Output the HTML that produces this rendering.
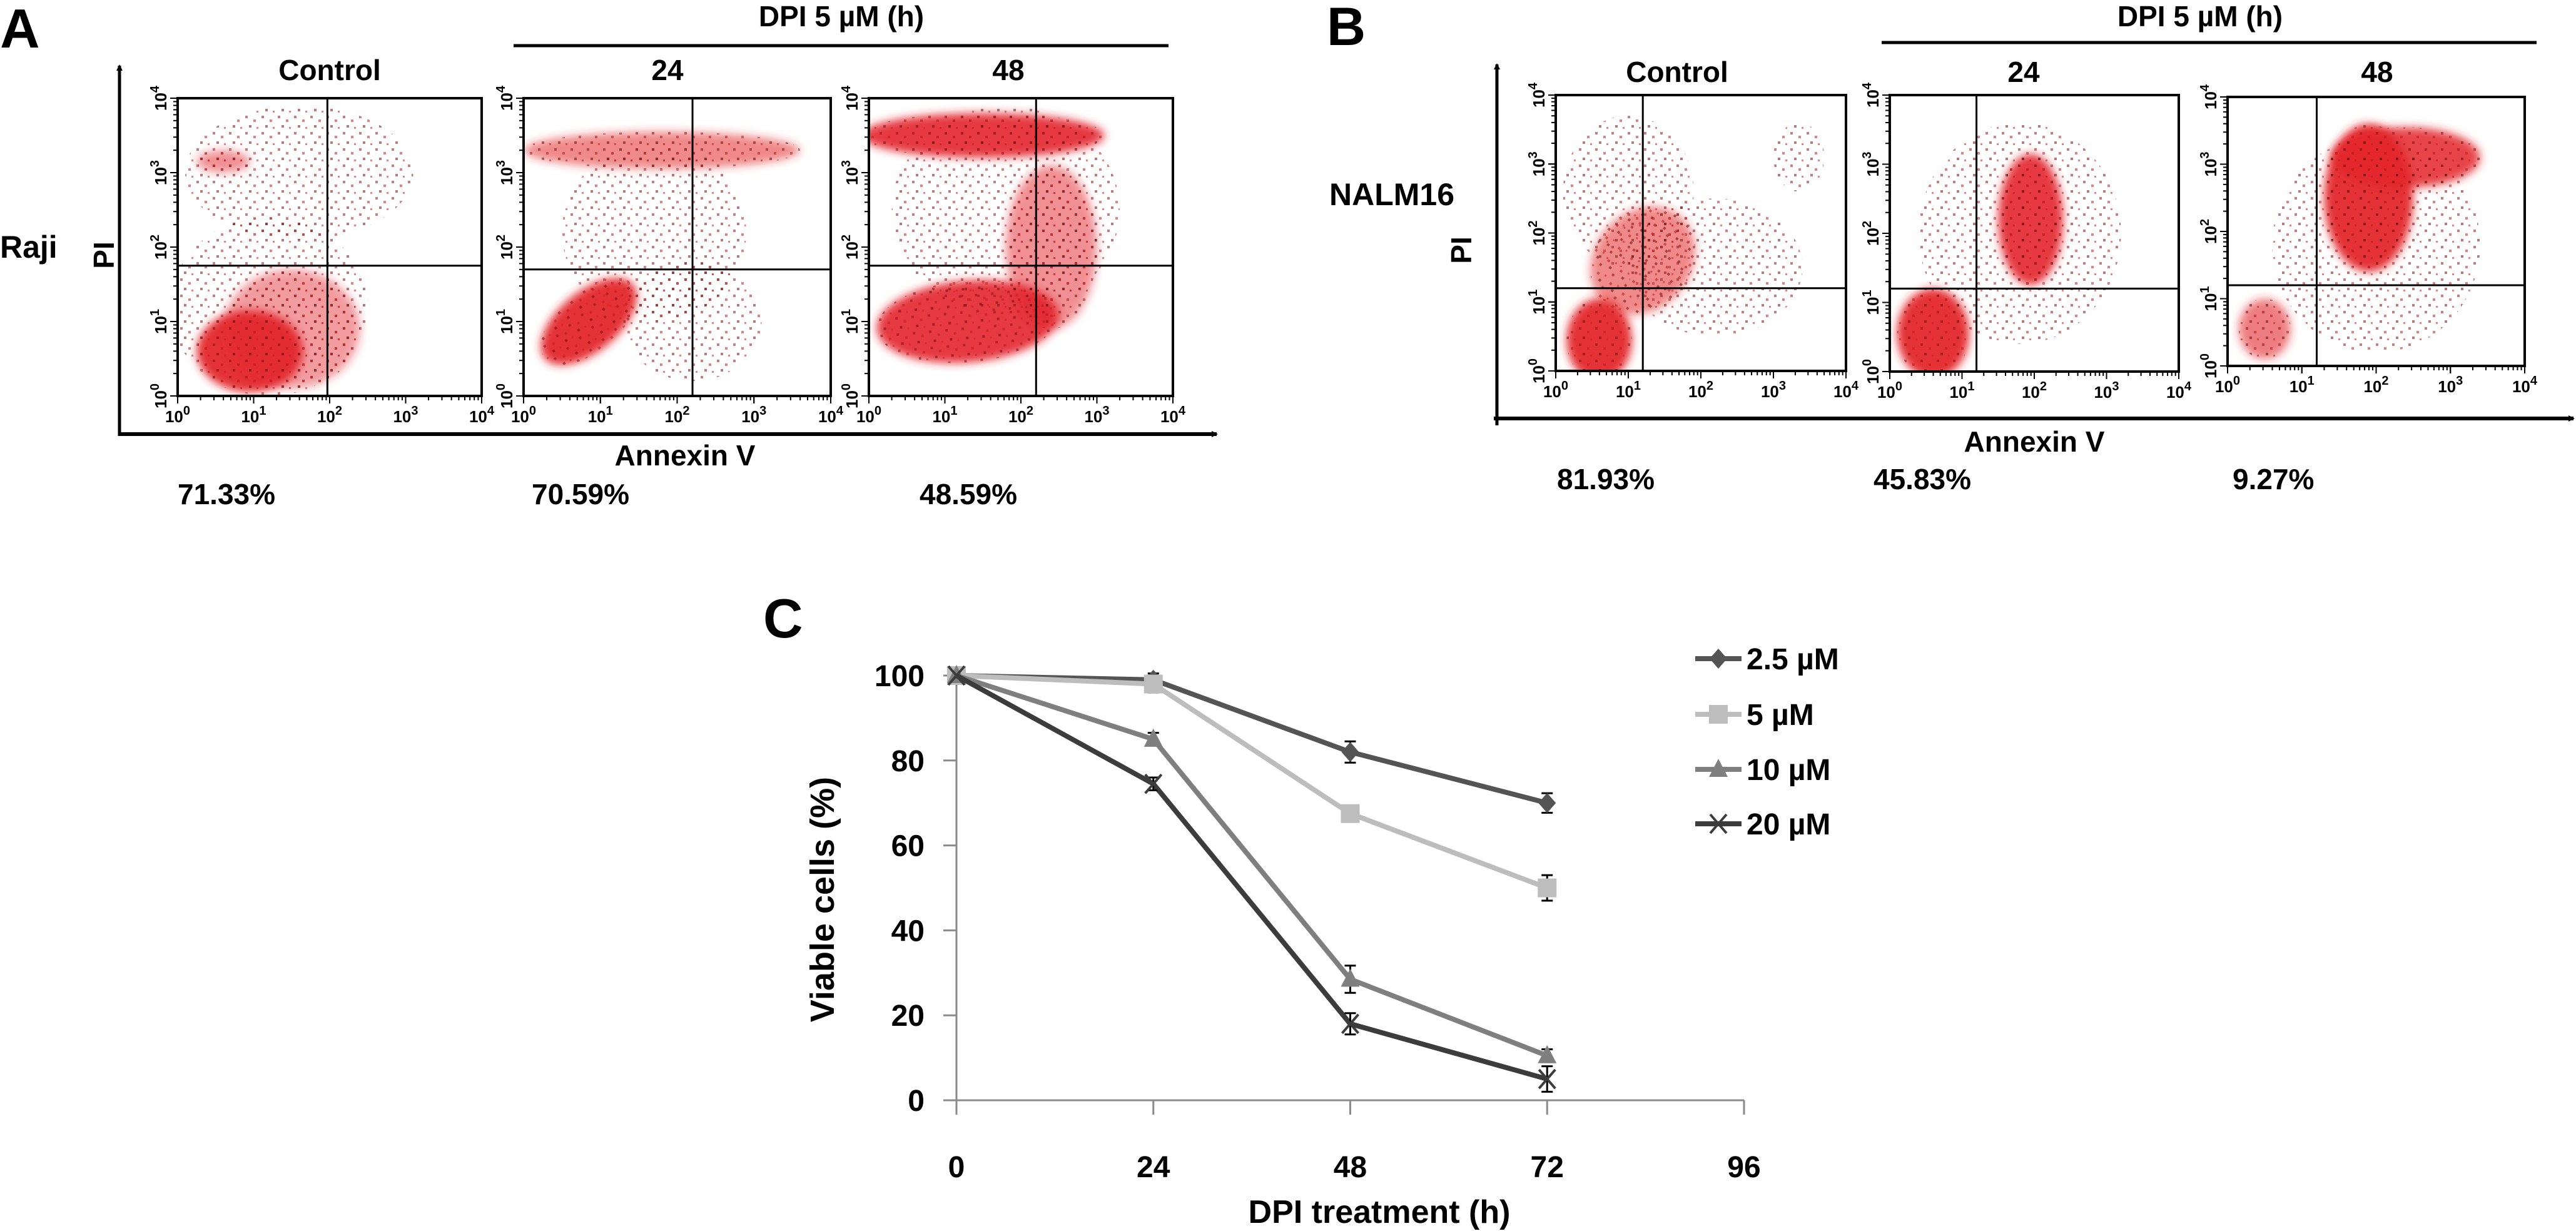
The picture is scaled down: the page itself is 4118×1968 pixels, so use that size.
<!DOCTYPE html>
<html><head><meta charset="utf-8"><style>
html,body{margin:0;padding:0;background:#fff;}
svg{display:block;}
text{font-family:"Liberation Sans",Arial,sans-serif;font-weight:bold;fill:#000;}
</style></head><body>
<svg id="fig" xmlns="http://www.w3.org/2000/svg" width="4118" height="1968" viewBox="0 0 4118 1968">
<defs>
<filter id="blur" x="-30%" y="-30%" width="160%" height="160%"><feGaussianBlur stdDeviation="7"/></filter>
<pattern id="dots" width="26" height="26" patternUnits="userSpaceOnUse">
<rect x="2" y="3" width="4" height="4" fill="#9a1515"/><rect x="15" y="9" width="4" height="4" fill="#c21d1d"/><rect x="8" y="18" width="4" height="4" fill="#7a1010"/><rect x="20" y="21" width="3" height="3" fill="#d02020"/>
</pattern>
<marker id="arr" markerWidth="10" markerHeight="10" refX="8" refY="5" orient="auto" markerUnits="userSpaceOnUse"><path d="M0,0 L10,5 L0,10 z" fill="#000"/></marker>
</defs>

<!-- Panel A static text -->
<text x="0" y="76" font-size="88">A</text>
<text x="1345" y="42" font-size="46" text-anchor="middle">DPI 5 µM (h)</text>
<line x1="821" y1="73" x2="1868" y2="73" stroke="#000" stroke-width="5"/>
<text x="527" y="128" font-size="46" text-anchor="middle">Control</text>
<text x="1067" y="128" font-size="46" text-anchor="middle">24</text>
<text x="1612" y="128" font-size="46" text-anchor="middle">48</text>
<text x="0" y="412" font-size="50">Raji</text>
<text transform="translate(182,408) rotate(-90)" font-size="46" text-anchor="middle">PI</text>
<line x1="191" y1="697" x2="191" y2="105" stroke="#000" stroke-width="5" marker-end="url(#arr)"/>
<line x1="189" y1="694" x2="1945" y2="694" stroke="#000" stroke-width="6" marker-end="url(#arr)"/>
<text x="1095" y="744" font-size="46" text-anchor="middle">Annexin V</text>
<text x="284" y="806" font-size="46">71.33%</text>
<text x="850" y="806" font-size="46">70.59%</text>
<text x="1470" y="806" font-size="46">48.59%</text>

<!-- Panel B static text -->
<text x="2121" y="72" font-size="86">B</text>
<text x="3517" y="42" font-size="46" text-anchor="middle">DPI 5 µM (h)</text>
<line x1="3008" y1="68" x2="4055" y2="68" stroke="#000" stroke-width="5"/>
<text x="2681" y="131" font-size="46" text-anchor="middle">Control</text>
<text x="3235" y="131" font-size="46" text-anchor="middle">24</text>
<text x="3800" y="131" font-size="46" text-anchor="middle">48</text>
<text x="2125" y="328" font-size="50">NALM16</text>
<text transform="translate(2352,400) rotate(-90)" font-size="46" text-anchor="middle">PI</text>
<line x1="2393" y1="680" x2="2393" y2="103" stroke="#000" stroke-width="5" marker-end="url(#arr)"/>
<line x1="2388" y1="669" x2="4114" y2="669" stroke="#000" stroke-width="6" marker-end="url(#arr)"/>
<text x="3252" y="722" font-size="46" text-anchor="middle">Annexin V</text>
<text x="2489" y="782" font-size="46">81.93%</text>
<text x="2995" y="782" font-size="46">45.83%</text>
<text x="3569" y="782" font-size="46">9.27%</text>

<g id="flow"></g>

<!-- Panel C -->
<text x="1220" y="1019" font-size="88">C</text>
<g id="chartC"></g>
</svg>
<script>
// ---------- Flow cytometry cluster data (log-decade units: cx, cy, rx, ry, rotationDeg, density) ----------
const aControlClusters = [[1.2,1.2,1.3,1.2,0,-1],[1.6,3.0,1.5,0.9,0,-1],[0.95,0.6,0.7,0.55,0,0.95],[1.5,0.9,0.9,0.8,0,0.45],[0.6,3.15,0.35,0.15,0,0.5]];
const a24Clusters = [[1.8,3.3,1.8,0.25,0,0.55],[1.7,2.2,1.2,1.2,0,-1],[0.85,1.0,0.75,0.4,40,0.95],[2.2,1.0,0.9,0.8,0,-1]];
const a48Clusters = [[1.5,3.5,1.6,0.3,0,0.9],[1.3,1.0,1.2,0.55,5,0.9],[2.4,2.0,0.6,1.1,0,0.5],[1.8,2.5,1.5,1.4,0,-1]];
const bControlClusters = [[0.6,0.45,0.45,0.6,0,0.95],[1.2,1.6,0.8,0.7,50,0.55],[1.0,2.6,0.9,1.1,0,-1],[3.35,3.1,0.35,0.5,0,-1],[2.2,1.5,1.2,1.0,0,-1]];
const b24Clusters = [[0.6,0.55,0.5,0.65,0,0.95],[1.95,2.2,0.45,0.95,0,0.9],[1.8,2.0,1.4,1.6,0,-1]];
const b48Clusters = [[0.5,0.55,0.35,0.45,0,0.6],[1.9,2.5,0.6,1.1,0,0.95],[2.4,3.1,1.0,0.45,0,0.85],[2.0,1.8,1.4,1.6,0,-1]];
// quadrant gate positions (log units)
const gateA = [[1.97,1.75],[2.2,1.7],[2.2,1.75]];
const gateB = [[1.2,1.2],[1.2,1.2],[1.2,1.2]];

const svgNS = "http://www.w3.org/2000/svg";
function mk(tag, attrs, parent){const e=document.createElementNS(svgNS,tag);for(const k in attrs)e.setAttribute(k,attrs[k]);parent.appendChild(e);return e;}
const flow = document.getElementById('flow');

const boxes = [
 {x0:284,x1:770,y0:157,y1:633,cl:aControlClusters,g:gateA[0],n:'a-control'},
 {x0:837,x1:1328,y0:157,y1:633,cl:a24Clusters,g:gateA[1],n:'a-24'},
 {x0:1389,x1:1875,y0:157,y1:633,cl:a48Clusters,g:gateA[2],n:'a-48'},
 {x0:2487,x1:2951,y0:152,y1:593,cl:bControlClusters,g:gateB[0],n:'b-control'},
 {x0:3021,x1:3483,y0:152,y1:594,cl:b24Clusters,g:gateB[1],n:'b-24'},
 {x0:3561,x1:4036,y0:155,y1:585,cl:b48Clusters,g:gateB[2],n:'b-48'}
];
boxes.forEach(b=>{
  const g = mk('g',{},flow);
  
  
  const sx = (b.x1-b.x0)/4, sy=(b.y1-b.y0)/4;
  const X = v=>b.x0+v*sx, Y=v=>b.y1-v*sy;
  const clip = 'clip-'+b.n;
  const cp = mk('clipPath',{id:clip},g); mk('rect',{x:b.x0,y:b.y0,width:b.x1-b.x0,height:b.y1-b.y0},cp);
  const cg = mk('g',{'clip-path':'url(#'+clip+')'},g);
  b.cl.forEach(c=>{
    const [cx,cy,rx,ry,rot,d]=c;
    const attrs={cx:X(cx),cy:Y(cy),rx:rx*sx,ry:ry*sy,transform:`rotate(${-rot} ${X(cx)} ${Y(cy)})`};
    let e;
    if(d<0){ attrs.fill='url(#dots)'; attrs.opacity=0.55; e=mk('ellipse',attrs,cg);}
    else { attrs.fill='#e3262b'; attrs['fill-opacity']=d; attrs.filter='url(#blur)'; e=mk('ellipse',attrs,cg);
      const e2=mk('ellipse',Object.assign({},attrs,{fill:'url(#dots)','fill-opacity':0.6,filter:''}),cg);
      
      }
    
    
  });
  const r = mk('rect',{x:b.x0,y:b.y0,width:b.x1-b.x0,height:b.y1-b.y0,fill:'none',stroke:'#000','stroke-width':4},g);
  
  
  const vl = mk('line',{x1:X(b.g[0]),x2:X(b.g[0]),y1:b.y0,y2:b.y1,stroke:'#000','stroke-width':3},g);
  
  
  const hl = mk('line',{x1:b.x0,x2:b.x1,y1:Y(b.g[1]),y2:Y(b.g[1]),stroke:'#000','stroke-width':3},g);
  
  
  for(let dcd=0;dcd<4;dcd++){for(let k=1;k<=10;k++){const v=dcd+Math.log10(k);const len=(k===1||k===10)?12:7;
    mk('line',{x1:X(v),x2:X(v),y1:b.y1,y2:b.y1+len,stroke:'#000','stroke-width':2},g);
    mk('line',{x1:b.x0,x2:b.x0-len,y1:Y(v),y2:Y(v),stroke:'#000','stroke-width':2},g);}}
  for(let i=0;i<=4;i++){
    const t=mk('text',{x:X(i),y:b.y1+42,'font-size':26,'font-weight':'normal','text-anchor':'middle'},g);
    t.textContent='10';
    const s=mk('tspan',{dy:-12,'font-size':20},t); s.textContent=String(i);
    
    
    const ty=mk('text',{transform:`translate(${b.x0-18},${Y(i)}) rotate(-90)`,'font-size':26,'font-weight':'normal','text-anchor':'middle'},g);
    ty.textContent='10';
    const s2=mk('tspan',{dy:-12,'font-size':20},ty); s2.textContent=String(i);
    
    
  }
});

// ---------- Panel C line chart data ----------
const hours = [0,24,48,72];
const xTicks = [0,24,48,72,96];
const yTicks = [0,20,40,60,80,100];
const seriesNames = ['2.5 µM','5 µM','10 µM','20 µM'];
const v25 = [100,99,82,70];
const v5 = [100,98,67.5,50];
const v10 = [100,85,28.5,10.5];
const v20 = [100,74.5,18,5];
const e25 = [0,1.5,2.5,2.3];
const e5 = [0,2,1,3];
const e10 = [0,1.5,3.2,1.5];
const e20 = [0,1.5,2.5,3];

const C = document.getElementById('chartC');
const xS = h=>1529 + h*(2788-1529)/96;
const yS = v=>1759 - v*(1759-1080)/100;
const ax = mk('g',{},C);


mk('line',{x1:1529,x2:1529,y1:yS(100),y2:1782,stroke:'#8a8a8a','stroke-width':3},ax);
mk('line',{x1:1508,x2:xS(96),y1:yS(0),y2:yS(0),stroke:'#8a8a8a','stroke-width':3},ax);
yTicks.forEach(v=>{
  mk('line',{x1:1508,x2:1529,y1:yS(v),y2:yS(v),stroke:'#8a8a8a','stroke-width':3},ax);
  const t=mk('text',{x:1478,y:yS(v)+17,'font-size':48,'text-anchor':'end'},ax); t.textContent=String(v);
  
  
});
xTicks.forEach(h=>{
  mk('line',{x1:xS(h),x2:xS(h),y1:yS(0),y2:1782,stroke:'#8a8a8a','stroke-width':3},ax);
  const t=mk('text',{x:xS(h),y:1882,'font-size':48,'text-anchor':'middle'},ax); t.textContent=String(h);
  
  
});
const xt=mk('text',{x:2205,y:1955,'font-size':52,'text-anchor':'middle'},C); xt.textContent='DPI treatment (h)';


const yt=mk('text',{transform:'translate(1333,1438) rotate(-90)','font-size':54,'text-anchor':'middle'},C); yt.textContent='Viable cells (%)';



const series=[{v:v25,e:e25,c:'#545454',m:'diamond'},{v:v5,e:e5,c:'#bdbdbd',m:'square'},{v:v10,e:e10,c:'#7f7f7f',m:'triangle'},{v:v20,e:e20,c:'#3c3c3c',m:'x'}];
function marker(g,m,x,y,c){
  let e;
  if(m==='diamond') e=mk('path',{d:`M${x},${y-16} L${x+14},${y} L${x},${y+16} L${x-14},${y} Z`,fill:c},g);
  else if(m==='square') e=mk('rect',{x:x-15,y:y-15,width:30,height:30,fill:c},g);
  else if(m==='triangle') e=mk('path',{d:`M${x},${y-17} L${x+15},${y+12} L${x-15},${y+12} Z`,fill:c},g);
  else e=mk('path',{d:`M${x-13},${y-15} L${x+13},${y+15} M${x+13},${y-15} L${x-13},${y+15}`,stroke:c,'stroke-width':4,fill:'none'},g);
  return e;
}
series.forEach((s,i)=>{
  const g=mk('g',{},C);
  
  
  const pts=hours.map((h,j)=>xS(h)+','+yS(s.v[j])).join(' ');
  const pl=mk('polyline',{points:pts,fill:'none',stroke:s.c,'stroke-width':8,'stroke-linejoin':'round'},g);
  
  
  hours.forEach((h,j)=>{
    if(s.e[j]>0){
      const x=xS(h),y1=yS(s.v[j]+s.e[j]),y2=yS(s.v[j]-s.e[j]);
      const eb=mk('path',{d:`M${x},${y1} L${x},${y2} M${x-9},${y1} L${x+9},${y1} M${x-9},${y2} L${x+9},${y2}`,stroke:'#000','stroke-width':3,fill:'none'},g);
      
      
    }
    const mkr=marker(g,s.m,xS(h),yS(s.v[j]),s.c);
    
    
  });
  // legend
  const ly=[1053,1142,1230,1317][i];
  const lg=mk('g',{},C);
  
  
  mk('line',{x1:2710,x2:2784,y1:ly,y2:ly,stroke:s.c,'stroke-width':8},lg);
  marker(lg,s.m,2747,ly,s.c);
  const lt=mk('text',{x:2792,y:ly+17,'font-size':48},lg); lt.textContent=seriesNames[i];
});
</script>
</body></html>
